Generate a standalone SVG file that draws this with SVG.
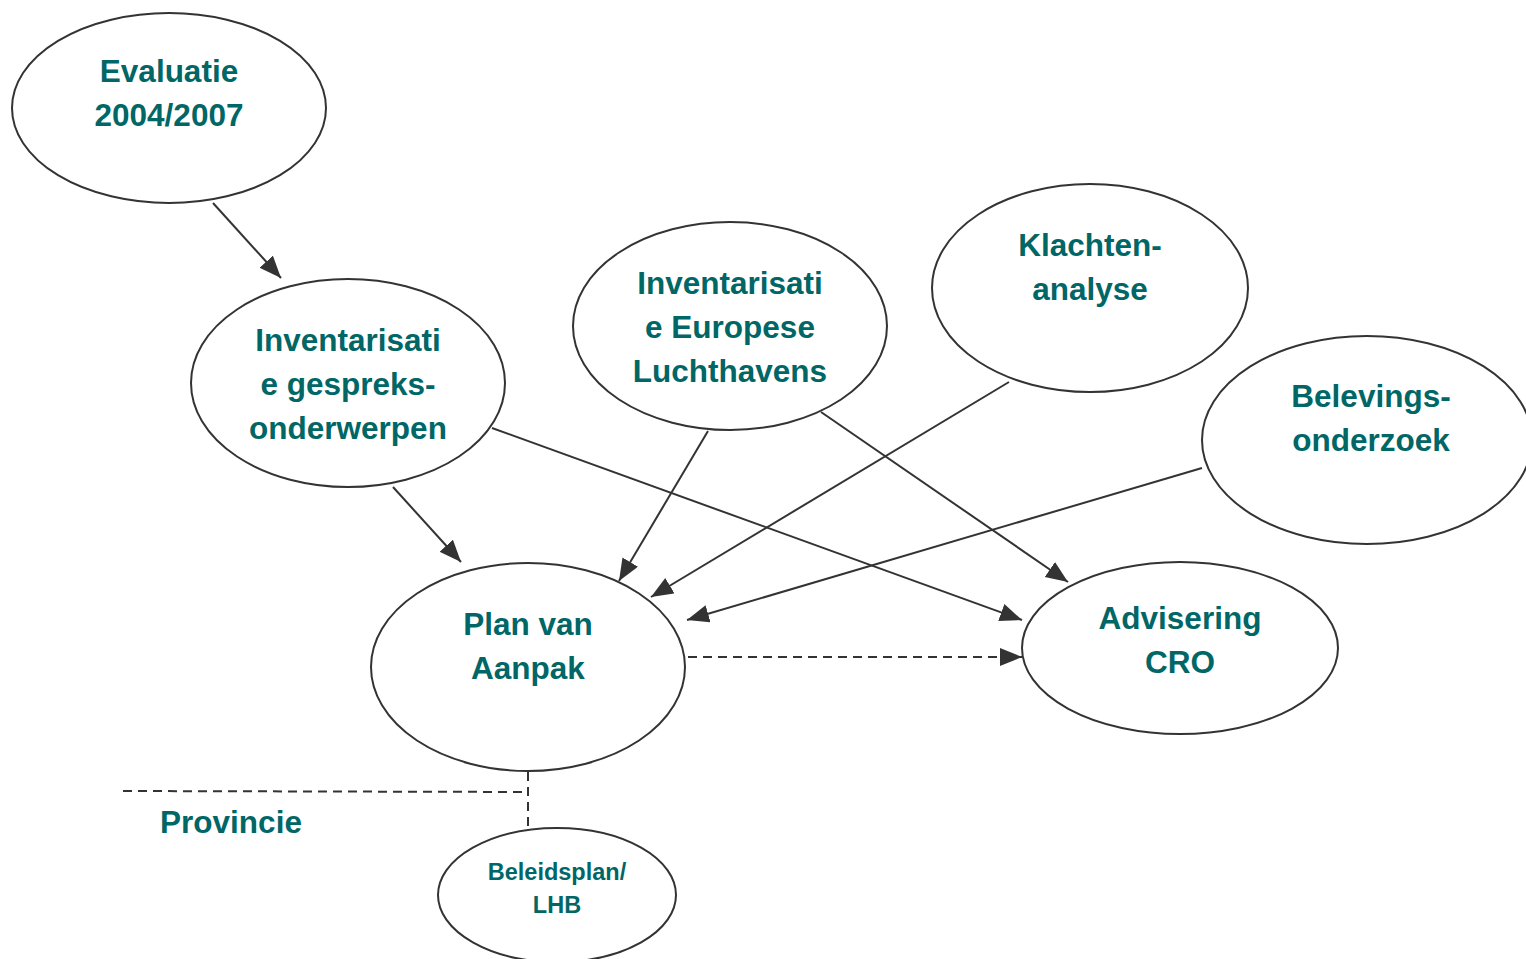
<svg xmlns="http://www.w3.org/2000/svg" width="1526" height="959" viewBox="0 0 1526 959">
<style>
.node ellipse{fill:#fff;stroke:#333;stroke-width:2}
.t{font-family:"Liberation Sans",Arial,sans-serif;font-weight:bold;font-size:31.5px;fill:#006666;text-anchor:middle}
.s{font-size:23.5px}
.c{stroke:#333;stroke-width:2;fill:none}
.d{stroke-dasharray:9,6}
</style>
<defs>
<marker id="ah" markerUnits="userSpaceOnUse" markerWidth="24" markerHeight="20" refX="22" refY="9" orient="auto">
<path d="M0,0 L22,9 L0,18 z" fill="#333"/>
</marker>
</defs>
<rect width="1526" height="959" fill="#fff"/>
<g id="connectors">
<line class="c" x1="213" y1="203" x2="281" y2="278" marker-end="url(#ah)"/>
<line class="c" x1="393" y1="487" x2="461" y2="562" marker-end="url(#ah)"/>
<line class="c" x1="492" y1="428" x2="1022" y2="620" marker-end="url(#ah)"/>
<line class="c" x1="708" y1="431" x2="619" y2="581" marker-end="url(#ah)"/>
<line class="c" x1="821" y1="412" x2="1068" y2="582" marker-end="url(#ah)"/>
<line class="c" x1="1009" y1="382" x2="651" y2="597" marker-end="url(#ah)"/>
<line class="c" x1="1202" y1="468" x2="687" y2="620" marker-end="url(#ah)"/>
<line class="c d" x1="688" y1="657" x2="1022" y2="657" marker-end="url(#ah)"/>
<polyline class="c d" points="123,791 528,792"/>
<line class="c d" x1="528" y1="772" x2="528" y2="828"/>
</g>
<g id="evaluatie" class="node">
<ellipse cx="169" cy="108" rx="157" ry="95"/>
<text class="t" x="169" y="82">Evaluatie</text>
<text class="t" x="169" y="126">2004/2007</text>
</g>
<g id="inv-gespreks" class="node">
<ellipse cx="348" cy="383" rx="157" ry="104"/>
<text class="t" x="348" y="351">Inventarisati</text>
<text class="t" x="348" y="395">e gespreks-</text>
<text class="t" x="348" y="439">onderwerpen</text>
</g>
<g id="inv-europese" class="node">
<ellipse cx="730" cy="326" rx="157" ry="104"/>
<text class="t" x="730" y="294">Inventarisati</text>
<text class="t" x="730" y="338">e Europese</text>
<text class="t" x="730" y="382">Luchthavens</text>
</g>
<g id="klachten" class="node">
<ellipse cx="1090" cy="288" rx="158" ry="104"/>
<text class="t" x="1090" y="256">Klachten-</text>
<text class="t" x="1090" y="300">analyse</text>
</g>
<g id="belevings" class="node">
<ellipse cx="1367" cy="440" rx="165" ry="104"/>
<text class="t" x="1371" y="407">Belevings-</text>
<text class="t" x="1371" y="451">onderzoek</text>
</g>
<g id="plan" class="node">
<ellipse cx="528" cy="667" rx="157" ry="104"/>
<text class="t" x="528" y="635">Plan van</text>
<text class="t" x="528" y="679">Aanpak</text>
</g>
<g id="advisering" class="node">
<ellipse cx="1180" cy="648" rx="158" ry="86"/>
<text class="t" x="1180" y="629">Advisering</text>
<text class="t" x="1180" y="673">CRO</text>
</g>
<g id="provincie">
<text class="t" x="231" y="833">Provincie</text>
</g>
<g id="beleidsplan" class="node">
<ellipse cx="557" cy="895" rx="119" ry="67"/>
<text class="t s" x="557" y="880">Beleidsplan/</text>
<text class="t s" x="557" y="913">LHB</text>
</g>
</svg>
